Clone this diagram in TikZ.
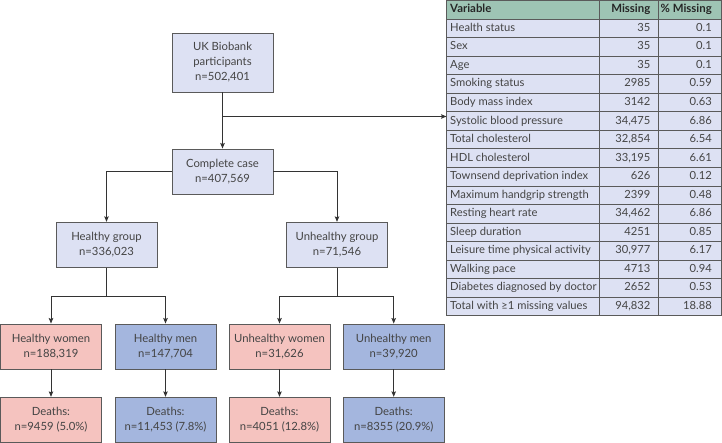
\documentclass[tikz,border=0pt]{standalone}
\usepackage{fontspec}
\setmainfont{Lato}
\usetikzlibrary{arrows.meta}
\definecolor{lav}{HTML}{DDE1F3}
\definecolor{pinkf}{HTML}{F5C3BF}
\definecolor{bluef}{HTML}{A4B6DE}
\definecolor{hdrc}{HTML}{9EC4B4}
\definecolor{edgec}{HTML}{5A5A5A}
\definecolor{linec}{HTML}{333333}
\definecolor{txt}{HTML}{444444}
\begin{document}
\begin{tikzpicture}[x=1pt,y=-1pt,
  box/.style={draw=edgec, line width=0.9pt, minimum width=101pt, minimum height=45pt,
    align=center, text=txt, inner sep=0pt, font=\fontsize{11.3}{15}\selectfont},
  lavbox/.style={box, fill=lav},
  pinkbox/.style={box, fill=pinkf},
  bluebox/.style={box, fill=bluef},
  arr/.style={draw=linec, line width=0.9pt, -{Stealth[length=5.5pt,width=4.5pt,inset=1pt]}},
  conn/.style={draw=linec, line width=0.9pt},
  cell/.style={draw=edgec, line width=0.8pt, fill=lav},
  celltext/.style={inner sep=0pt, text=txt, text height=8.5pt, text depth=2.5pt, font=\fontsize{11.2}{13}\selectfont},
  hdrtext/.style={inner sep=0pt, text=black!85, text height=8.5pt, text depth=2.5pt, font=\fontsize{11.4}{13}\selectfont\bfseries}
]
\useasboundingbox (0,0) rectangle (722,443);

% ---- flowchart ----
\node[lavbox, minimum height=59pt] (uk) at (222.5,62.5) {UK Biobank\\participants\\n=502,401};
\node[lavbox] (cc) at (222.5,171.5) {Complete case\\n=407,569};
\node[lavbox] (hg) at (106.5,244.8) {Healthy group\\n=336,023};
\node[lavbox] (ug) at (337,244.8) {Unhealthy group\\n=71,546};

\node[pinkbox] (hw) at (51,346.5) {Healthy women\\n=188,319};
\node[bluebox] (hm) at (165.5,346.5) {Healthy men\\n=147,704};
\node[pinkbox] (uw) at (279.5,346.5) {Unhealthy women\\n=31,626};
\node[bluebox] (um) at (393.7,346.5) {Unhealthy men\\n=39,920};

\node[pinkbox] (hwd) at (51,419.8) {Deaths:\\n=9459 (5.0\%)};
\node[bluebox] (hmd) at (165.5,419.8) {Deaths:\\n=11,453 (7.8\%)};
\node[pinkbox] (uwd) at (279.5,419.8) {Deaths:\\n=4051 (12.8\%)};
\node[bluebox] (umd) at (393.7,419.8) {Deaths:\\n=8355 (20.9\%)};

% ---- table ----
\def\ta{446}\def\tb{599}\def\tc{658}\def\td{721}
\def\rh{18.55}
\fill[hdrc] (\ta,0.5) rectangle (\td,19);
\draw[draw=edgec, line width=0.8pt] (\ta,0.5) rectangle (\tb,19);
\draw[draw=edgec, line width=0.8pt] (\tb,0.5) rectangle (\tc,19);
\draw[draw=edgec, line width=0.8pt] (\tc,0.5) rectangle (\td,19);
\node[hdrtext, anchor=west] (hv) at (450,10) {Variable};
\node[hdrtext, anchor=east] (hmiss) at (650.5,10) {Missing};
\node[hdrtext, anchor=east] (hpct) at (712,10) {\% Missing};

\foreach \i/\a/\b/\c in {
  1/Health status/35/0.1,
  2/Sex/35/0.1,
  3/Age/35/0.1,
  4/Smoking status/2985/0.59,
  5/Body mass index/3142/0.63,
  6/Systolic blood pressure/{34,475}/6.86,
  7/Total cholesterol/{32,854}/6.54,
  8/HDL cholesterol/{33,195}/6.61,
  9/Townsend deprivation index/626/0.12,
  10/Maximum handgrip strength/2399/0.48,
  11/Resting heart rate/{34,462}/6.86,
  12/Sleep duration/4251/0.85,
  13/Leisure time physical activity/{30,977}/6.17,
  14/Walking pace/4713/0.94,
  15/Diabetes diagnosed by doctor/2652/0.53,
  16/Total with ≥1 missing values/{94,832}/18.88}{
  \pgfmathsetmacro{\yt}{19+(\i-1)*\rh}
  \pgfmathsetmacro{\yb}{19+\i*\rh}
  \pgfmathsetmacro{\ym}{19+(\i-0.5)*\rh}
  \draw[cell] (\ta,\yt) rectangle (\tb,\yb);
  \draw[cell] (\tb,\yt) rectangle (\tc,\yb);
  \draw[cell] (\tc,\yt) rectangle (\td,\yb);
  \node[celltext, anchor=west] (v\i) at (450,\ym) {\a};
  \node[celltext, anchor=east] (m\i) at (650.5,\ym) {\b};
  \node[celltext, anchor=east] (p\i) at (712,\ym) {\c};
}

% ---- connectors ----
\coordinate (br) at (222.5,116.5);
\coordinate (tabin) at (446.5,116.5);
\draw[arr] (uk.south) -- (cc.north);
\draw[arr] (br) -- (tabin);
\draw[arr] (cc.west) -| (hg.north);
\draw[arr] (cc.east) -| (ug.north);
\draw[conn] (hg.south) -- ++(0,29) coordinate (hgj);
\draw[arr] (hgj) -| (hw.north);
\draw[arr] (hgj) -| (hm.north);
\draw[conn] (ug.south) -- ++(0,29) coordinate (ugj);
\draw[arr] (ugj) -| (uw.north);
\draw[arr] (ugj) -| (um.north);
\draw[arr] (hw.south) -- (hwd.north);
\draw[arr] (hm.south) -- (hmd.north);
\draw[arr] (uw.south) -- (uwd.north);
\draw[arr] (um.south) -- (umd.north);
\end{tikzpicture}
\end{document}
